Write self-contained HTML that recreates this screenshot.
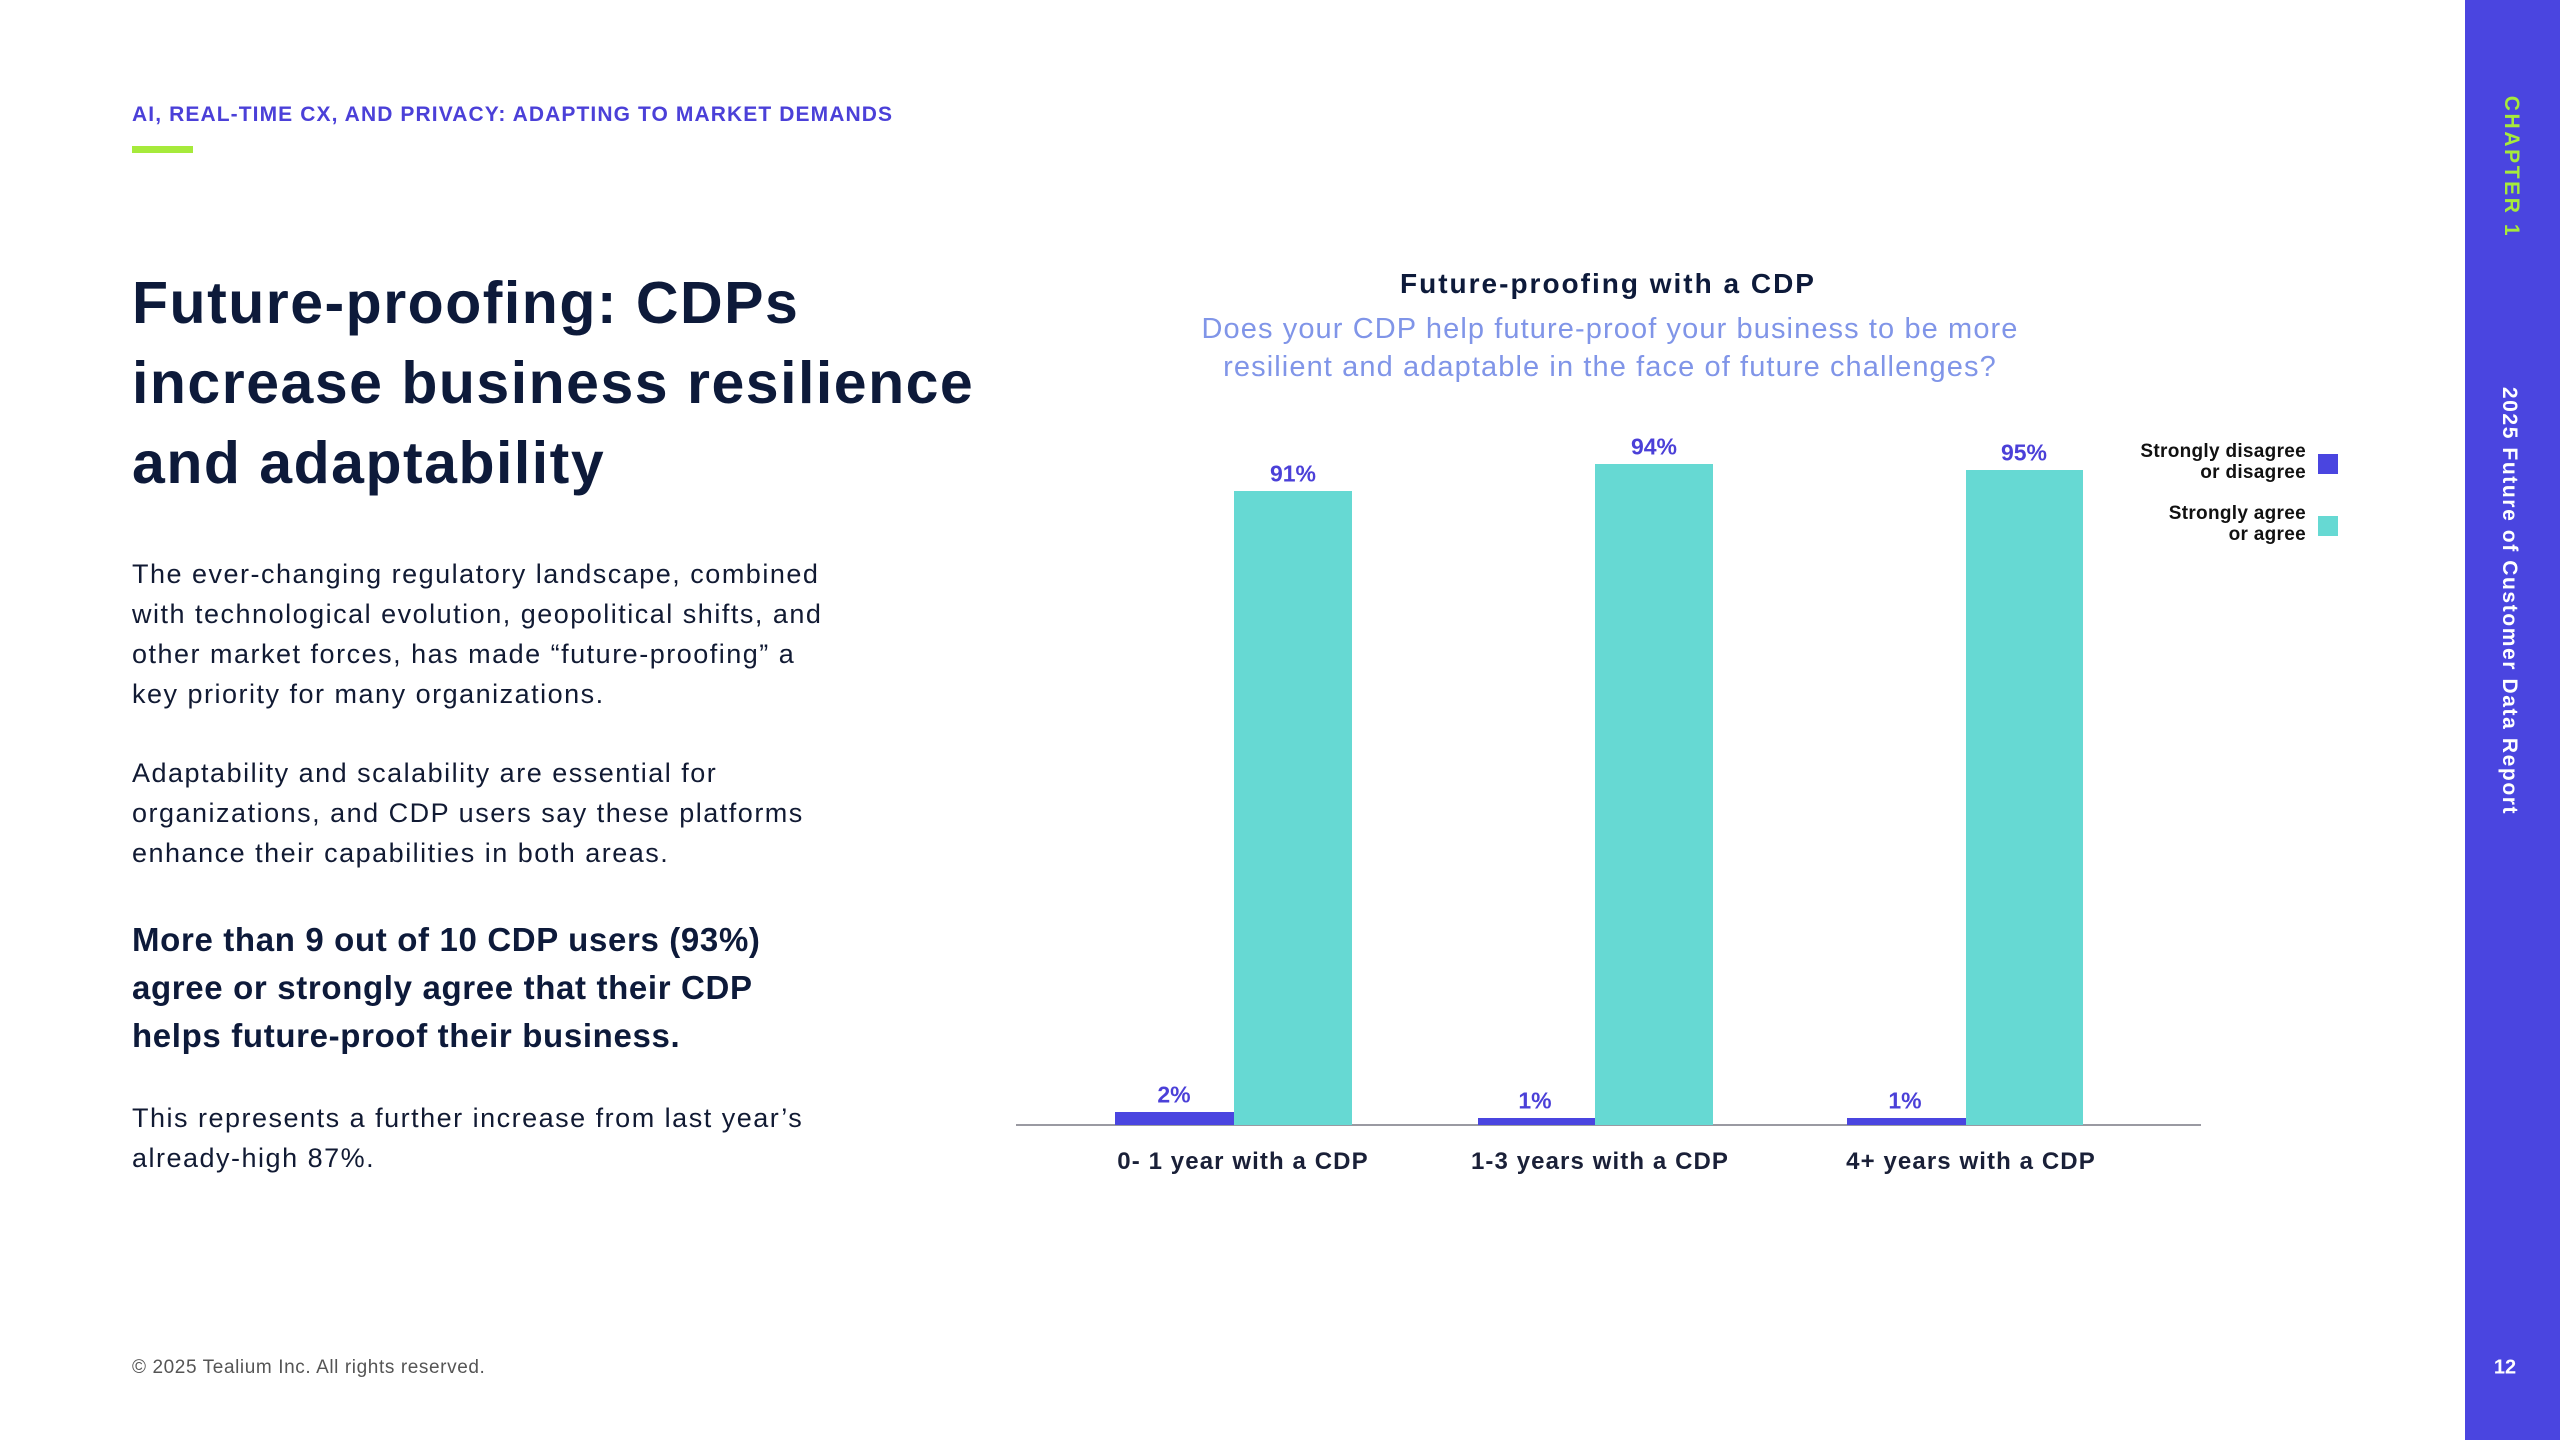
<!DOCTYPE html>
<html><head><meta charset="utf-8">
<style>
html,body{margin:0;padding:0;background:#fff}
body{width:2560px;height:1440px;position:relative;overflow:hidden;font-family:"Liberation Sans",sans-serif;color:#0d1a3a}
.a{position:absolute;white-space:nowrap}
.p{font-size:27px;line-height:40px;color:#111a33;letter-spacing:1.5px}
.lbl{position:absolute;font-size:23px;font-weight:bold;color:#4b40d8;transform:translate(-50%,-50%)}
.cat{position:absolute;font-size:24px;font-weight:bold;color:#1a2038;transform:translate(-50%,-50%);top:1162px;white-space:nowrap;letter-spacing:1.1px}
.leg{position:absolute;right:254px;font-size:19px;font-weight:bold;text-align:right;line-height:21px;color:#111;letter-spacing:0.3px}
</style></head><body>
<div class="a" style="left:132px;top:103px;font-size:21px;font-weight:bold;color:#4b40d8;letter-spacing:1.1px">AI, REAL-TIME CX, AND PRIVACY: ADAPTING TO MARKET DEMANDS</div>
<div class="a" style="left:132px;top:146px;width:61px;height:7px;background:#a6ea3b"></div>
<div class="a" style="left:132px;top:263px;font-size:59px;font-weight:bold;line-height:80px;color:#0d1a3a;letter-spacing:1.5px">Future-proofing: CDPs<br>increase business resilience<br>and adaptability</div>
<div class="a p" style="left:132px;top:554px">The ever-changing regulatory landscape, combined<br>with technological evolution, geopolitical shifts, and<br>other market forces, has made “future-proofing” a<br>key priority for many organizations.</div>
<div class="a p" style="left:132px;top:753px">Adaptability and scalability are essential for<br>organizations, and CDP users say these platforms<br>enhance their capabilities in both areas.</div>
<div class="a" style="left:132px;top:916px;font-size:33px;font-weight:bold;line-height:48px;color:#0d1a3a;letter-spacing:0.65px">More than 9 out of 10 CDP users (93%)<br>agree or strongly agree that their CDP<br>helps future-proof their business.</div>
<div class="a p" style="left:132px;top:1098px">This represents a further increase from last year’s<br>already-high 87%.</div>
<div class="a" style="left:132px;top:1357px;font-size:19px;color:#555;letter-spacing:0.6px">© 2025 Tealium Inc. All rights reserved.</div>

<div class="a" style="left:1608px;top:284px;transform:translate(-50%,-50%);font-size:28px;font-weight:bold;color:#0d1a3a;letter-spacing:2px">Future-proofing with a CDP</div>
<div class="a" style="left:1610px;top:348px;transform:translate(-50%,-50%);font-size:29px;line-height:38px;text-align:center;color:#8095e8;letter-spacing:1.1px">Does your CDP help future-proof your business to be more<br>resilient and adaptable in the face of future challenges?</div>

<div class="a" style="left:1016px;top:1124px;width:1185px;height:2px;background:#9a9aa2"></div>
<div class="a" style="left:1234px;top:491px;width:118px;height:634px;background:#66d9d3"></div>
<div class="a" style="left:1595px;top:464px;width:118px;height:661px;background:#66d9d3"></div>
<div class="a" style="left:1966px;top:470px;width:117px;height:655px;background:#66d9d3"></div>
<div class="a" style="left:1115px;top:1112px;width:119px;height:13px;background:#4a45e0"></div>
<div class="a" style="left:1478px;top:1118px;width:117px;height:7px;background:#4a45e0"></div>
<div class="a" style="left:1847px;top:1118px;width:119px;height:7px;background:#4a45e0"></div>
<div class="lbl" style="left:1293px;top:474px">91%</div>
<div class="lbl" style="left:1654px;top:447px">94%</div>
<div class="lbl" style="left:2024px;top:453px">95%</div>
<div class="lbl" style="left:1174px;top:1095px">2%</div>
<div class="lbl" style="left:1535px;top:1101px">1%</div>
<div class="lbl" style="left:1905px;top:1101px">1%</div>
<div class="cat" style="left:1243px">0- 1 year with a CDP</div>
<div class="cat" style="left:1600px">1-3 years with a CDP</div>
<div class="cat" style="left:1971px">4+ years with a CDP</div>

<div class="leg" style="top:441px">Strongly disagree<br>or disagree</div>
<div class="a" style="left:2318px;top:454px;width:20px;height:20px;background:#4a45e0"></div>
<div class="leg" style="top:503px">Strongly agree<br>or agree</div>
<div class="a" style="left:2318px;top:516px;width:20px;height:20px;background:#66d9d3"></div>

<div class="a" style="left:2465px;top:0;width:95px;height:1440px;background:#4a45e0"></div>
<div class="a" style="left:2511px;top:167px;transform:translate(-50%,-50%) rotate(90deg);font-size:21px;font-weight:bold;color:#a6ea3b;letter-spacing:2.6px">CHAPTER 1</div>
<div class="a" style="left:2509px;top:601px;transform:translate(-50%,-50%) rotate(90deg);font-size:21px;font-weight:bold;color:#fff;letter-spacing:1.6px">2025 Future of Customer Data Report</div>
<div class="a" style="left:2505px;top:1368px;transform:translate(-50%,-50%);font-size:20px;font-weight:bold;color:#fff">12</div>
</body></html>
